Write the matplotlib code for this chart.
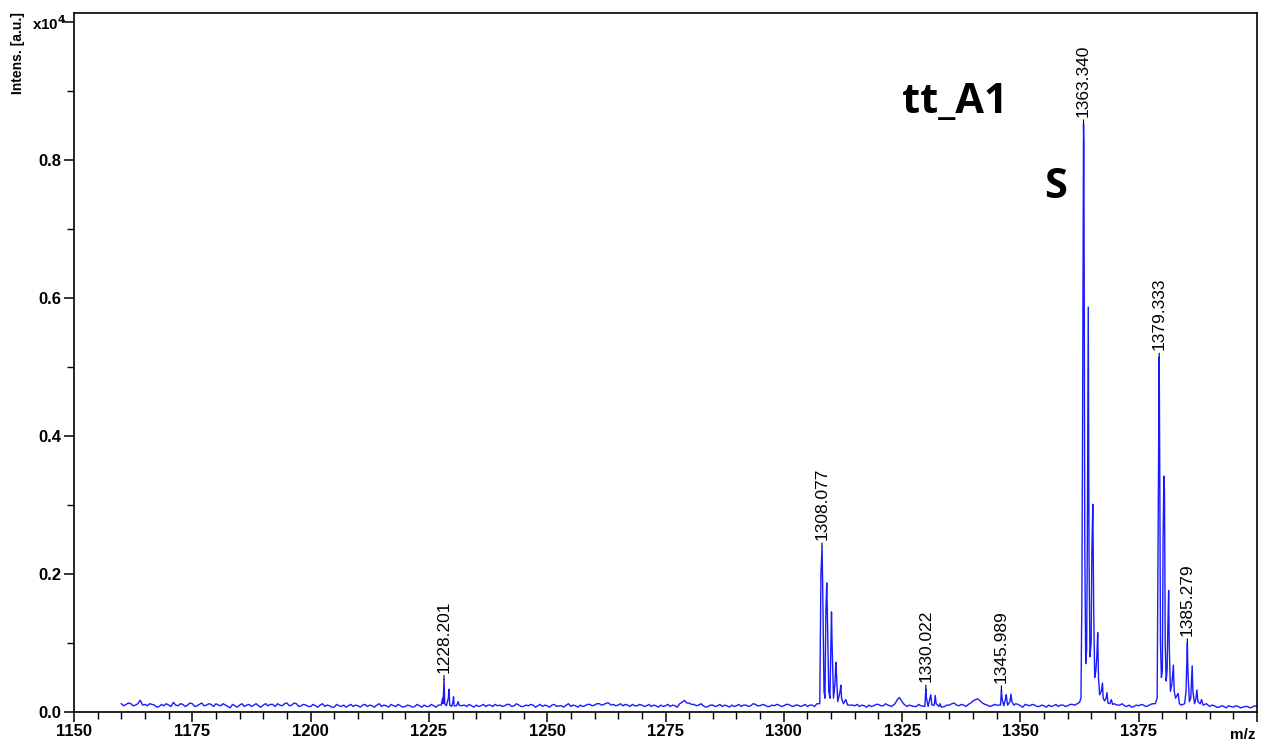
import numpy as np
import matplotlib.pyplot as plt
from matplotlib.ticker import MultipleLocator, FixedLocator, FuncFormatter

# ---- baseline noise: one reading per m/z unit, 1160..1400 (intensity x1e-3 of 10^4)
base_start = 1160
base_vals = [
    12, 11, 12, 10, 17, 11, 12, 10, 8, 9,
    10, 14, 9, 11, 10, 12, 9, 13, 10, 11,
    12, 9, 10, 6, 9, 10, 8, 11, 10, 9,
    10, 9, 11, 12, 9, 13, 10, 12, 9, 10,
    8, 9, 10, 8, 9, 7, 9, 10, 9, 8,
    9, 10, 8, 9, 10, 8, 9, 11, 8, 9,
    8, 9, 8, 9, 10, 8, 9, 10, 9, 9,
    8, 9, 8, 8, 9, 10, 9, 8, 10, 11,
    10, 9, 11, 9, 10, 8, 9, 10, 9, 8,
    9, 10, 8, 9, 10, 8, 9, 10, 9, 11,
    10, 12, 11, 13, 11, 10, 9, 10, 11, 9,
    10, 9, 8, 9, 10, 9, 8, 9, 12, 17,
    13, 11, 10, 9, 8, 10, 9, 8, 9, 10,
    9, 8, 10, 9, 11, 9, 10, 8, 9, 10,
    9, 11, 8, 10, 9, 8, 10, 12, 10, 10,
    10, 10, 10, 10, 10, 9, 8, 9, 10, 9,
    11, 9, 10, 8, 12, 18, 12, 9, 8, 9,
    9, 10, 9, 9, 8, 10, 13, 9, 10, 11,
    16, 19, 13, 10, 9, 10, 10, 10, 10, 9,
    9, 11, 9, 10, 8, 9, 10, 9, 8, 10,
    9, 11, 12, 12, 12, 12, 12, 12, 12, 12,
    12, 10, 9, 10, 8, 9, 10, 9, 12, 12,
    12, 12, 12, 12, 12, 12, 12, 12, 12, 12,
    8, 9, 7, 8, 9, 7, 8, 7, 8, 7,
    8,
]
# second set of readings, half-way between the ones above (1160.5..1399.5)
base_half = [
    9, 13, 9, 12, 10, 9, 11, 7, 11, 12,
    8, 10, 12, 8, 13, 8, 11, 9, 12, 8,
    10, 12, 8, 11, 7, 12, 10, 8, 12, 7,
    12, 11, 8, 10, 12, 9, 13, 8, 11, 8,
    11, 7, 12, 10, 7, 11, 8, 7, 11, 10,
    7, 11, 10, 7, 12, 10, 7, 9, 11, 7,
    10, 7, 11, 7, 8, 11, 7, 8, 11, 7,
    10, 7, 10, 11, 7, 8, 11, 10, 8, 9,
    8, 11, 8, 12, 8, 10, 11, 7, 11, 10,
    7, 11, 9, 7, 12, 10, 7, 8, 11, 9,
    12, 10, 13, 10, 9, 12, 11, 8, 9, 11,
    8, 11, 10, 7, 8, 11, 10, 7, 14, 13,
    11, 9, 12, 7, 10, 8, 11, 10, 7, 8,
    11, 10, 8, 12, 9, 11, 8, 10, 11, 8,
    11, 9, 10, 8, 11, 10, 8, 11, 10, 10,
    10, 10, 10, 10, 10, 11, 10, 7, 8, 11,
    9, 12, 8, 10, 14, 15, 10, 8, 11, 7,
    11, 8, 11, 7, 10, 12, 10, 11, 8, 13,
    18, 16, 11, 8, 11, 10, 10, 10, 10, 11,
    7, 10, 11, 8, 10, 7, 8, 11, 10, 8,
    11, 10, 12, 12, 12, 12, 12, 12, 12, 12,
    10, 12, 8, 7, 10, 11, 8, 11, 10, 12,
    12, 12, 12, 12, 12, 12, 12, 12, 12, 12,
    10, 7, 9, 6, 8, 9, 6, 8, 6, 9,
]

# ---- isotope clusters (m/z, intensity in 10^4 a.u.)
c1228_mz = [1227.6, 1227.9, 1228.0, 1228.1, 1228.2, 1228.35, 1228.7, 1229.1, 1229.25,
            1229.4, 1229.8, 1230.1, 1230.2, 1230.35, 1230.8, 1231.2, 1231.35, 1231.8]
c1228_int = [0.010, 0.020, 0.012, 0.030, 0.047, 0.012, 0.009, 0.020, 0.033,
             0.010, 0.008, 0.015, 0.022, 0.009, 0.009, 0.015, 0.010, 0.009]

c1308_mz = [1307.6, 1307.85, 1308.08, 1308.2, 1308.5, 1308.7, 1308.9, 1309.08, 1309.2,
            1309.5, 1309.75, 1309.95, 1310.08, 1310.2, 1310.5, 1310.8, 1311.0, 1311.1,
            1311.4, 1311.9, 1312.05, 1312.2, 1312.6, 1313.1, 1313.5]
c1308_int = [0.012, 0.200, 0.239, 0.190, 0.030, 0.020, 0.150, 0.187, 0.145,
             0.030, 0.020, 0.100, 0.145, 0.100, 0.020, 0.040, 0.072, 0.060,
             0.015, 0.030, 0.039, 0.020, 0.012, 0.018, 0.010]

c1324_mz = [1322.8, 1323.5, 1324.0, 1324.4, 1324.8, 1325.3, 1326.0]
c1324_int = [0.008, 0.012, 0.018, 0.021, 0.017, 0.012, 0.008]

c1330_mz = [1329.8, 1330.02, 1330.15, 1330.5, 1330.9, 1331.05, 1331.3, 1331.8, 1332.0,
            1332.2, 1332.8, 1333.0, 1333.3]
c1330_int = [0.008, 0.033, 0.020, 0.008, 0.020, 0.025, 0.010, 0.010, 0.024,
             0.012, 0.008, 0.012, 0.007]

c1346_mz = [1345.8, 1345.99, 1346.15, 1346.5, 1346.9, 1347.0, 1347.3, 1347.8, 1348.0,
            1348.2, 1348.6, 1349.0]
c1346_int = [0.010, 0.032, 0.018, 0.009, 0.020, 0.025, 0.010, 0.015, 0.026,
             0.015, 0.010, 0.012]

c1363_mz = [1362.0, 1362.5, 1362.8, 1363.0, 1363.15, 1363.34, 1363.42, 1363.6, 1363.8,
            1364.0, 1364.15, 1364.34, 1364.5, 1364.7, 1364.95, 1365.1, 1365.3, 1365.5,
            1365.7, 1365.95, 1366.15, 1366.34, 1366.5, 1366.75, 1367.1, 1367.34, 1367.5,
            1367.8, 1368.1, 1368.3, 1368.5, 1368.9, 1369.2, 1369.5, 1369.8]
c1363_int = [0.012, 0.014, 0.020, 0.170, 0.440, 0.852, 0.820, 0.250, 0.070,
             0.090, 0.250, 0.587, 0.230, 0.080, 0.100, 0.232, 0.301, 0.143,
             0.050, 0.060, 0.080, 0.115, 0.050, 0.025, 0.030, 0.042, 0.020,
             0.016, 0.020, 0.028, 0.013, 0.012, 0.018, 0.011, 0.012]

c1379_mz = [1378.5, 1378.9, 1379.15, 1379.33, 1379.45, 1379.6, 1379.8, 1380.0, 1380.15,
            1380.33, 1380.45, 1380.6, 1380.8, 1381.0, 1381.15, 1381.33, 1381.45, 1381.7,
            1382.0, 1382.33, 1382.5, 1382.8, 1383.33, 1383.6, 1384.0, 1384.7, 1385.0,
            1385.28, 1385.4, 1385.7, 1386.0, 1386.3, 1386.45, 1386.8, 1387.1, 1387.3,
            1387.5, 1388.0, 1388.3, 1388.6, 1389.3]
c1379_int = [0.012, 0.020, 0.300, 0.514, 0.350, 0.100, 0.050, 0.060, 0.250,
             0.342, 0.320, 0.100, 0.045, 0.060, 0.120, 0.176, 0.100, 0.030,
             0.040, 0.068, 0.030, 0.020, 0.027, 0.012, 0.010, 0.012, 0.030,
             0.100, 0.060, 0.015, 0.020, 0.067, 0.030, 0.012, 0.020, 0.032,
             0.015, 0.012, 0.018, 0.010, 0.012]

# ---- peak labels
lab_text = ["1228.201", "1308.077", "1330.022", "1345.989", "1363.340", "1379.333", "1385.279"]
lab_mz = [1228.2, 1308.08, 1330.02, 1345.99, 1363.34, 1379.33, 1385.28]
lab_int = [0.047, 0.239, 0.033, 0.032, 0.852, 0.514, 0.100]

# ==============================
# build the trace
# ==============================
clusters = [(c1228_mz, c1228_int), (c1308_mz, c1308_int), (c1324_mz, c1324_int),
            (c1330_mz, c1330_int), (c1346_mz, c1346_int), (c1363_mz, c1363_int),
            (c1379_mz, c1379_int)]

base_mz = np.concatenate([base_start + np.arange(len(base_vals)),
                          base_start + 0.5 + np.arange(len(base_half))])
base_int = np.concatenate([base_vals, base_half]) / 1000.0
keep = np.ones(len(base_mz), dtype=bool)
for cmz, _ in clusters:
    keep &= ~((base_mz >= cmz[0] - 0.3) & (base_mz <= cmz[-1] + 0.3))

mz = list(base_mz[keep])
inten = list(base_int[keep])
for cmz, cint in clusters:
    mz += cmz
    inten += cint
order = np.argsort(mz)
mz = np.array(mz)[order]
inten = np.array(inten)[order]

# ==============================
# plot
# ==============================
plt.rcParams['font.family'] = ['Liberation Sans', 'DejaVu Sans']

fig = plt.figure(figsize=(12.61, 7.44), dpi=100)
ax = fig.add_axes([74 / 1261, 32 / 744, (1257 - 74) / 1261, (712 - 13) / 744])

ax.plot(mz, inten, color='#1a1aff', lw=1.0)

ax.set_xlim(1150, 1400)
ax.set_ylim(0, 1.013)

ax.xaxis.set_major_locator(MultipleLocator(25))
ax.xaxis.set_minor_locator(MultipleLocator(5))
ax.yaxis.set_major_locator(FixedLocator([0, 0.2, 0.4, 0.6, 0.8, 1.0]))
ax.yaxis.set_minor_locator(MultipleLocator(0.1))
ax.yaxis.set_major_formatter(FuncFormatter(lambda v, p: "" if v > 0.9 else f"{v:.1f}"))
ax.xaxis.set_major_formatter(FuncFormatter(lambda v, p: "" if v > 1390 else f"{v:.0f}"))

ax.tick_params(which='major', direction='out', length=7, width=1.1, labelsize=12, pad=2)
ax.tick_params(which='minor', direction='out', length=5, width=1.0)
for lab in ax.get_xticklabels() + ax.get_yticklabels():
    lab.set_fontweight('bold')
for sp in ax.spines.values():
    sp.set_linewidth(1.2)

for t, x, y in zip(lab_text, lab_mz, lab_int):
    ax.annotate(t, xy=(x, y), xytext=(0, 5), textcoords='offset points',
                rotation=90, ha='center', va='bottom', fontsize=12.5,
                family=['Liberation Sans Narrow', 'Liberation Sans'],
                arrowprops=dict(arrowstyle='-', lw=0.8, color='black',
                                shrinkA=0, shrinkB=0))

fig.text(18 / 1261, 1 - 12 / 744, "Intens. [a.u.]", rotation=90, ha='center', va='top',
         fontsize=10, fontweight='bold')
fig.text(32 / 1261, 1 - 24 / 744, r"x10$^{\mathbf{4}}$", ha='left', va='center',
         fontsize=11, fontweight='bold')
fig.text(1243 / 1261, 1 - 735 / 744, "m/z", ha='center', va='center',
         fontsize=11, fontweight='bold')

fig.text(955 / 1261, 1 - 102 / 744, "tt_A1", ha='center', va='center',
         fontsize=30, fontweight='bold', family=['Open Sans', 'DejaVu Sans'])
fig.text(1056 / 1261, 1 - 187 / 744, "S", ha='center', va='center',
         fontsize=30, fontweight='bold', family=['Open Sans', 'DejaVu Sans'])

fig.savefig("out.png", dpi=100)
